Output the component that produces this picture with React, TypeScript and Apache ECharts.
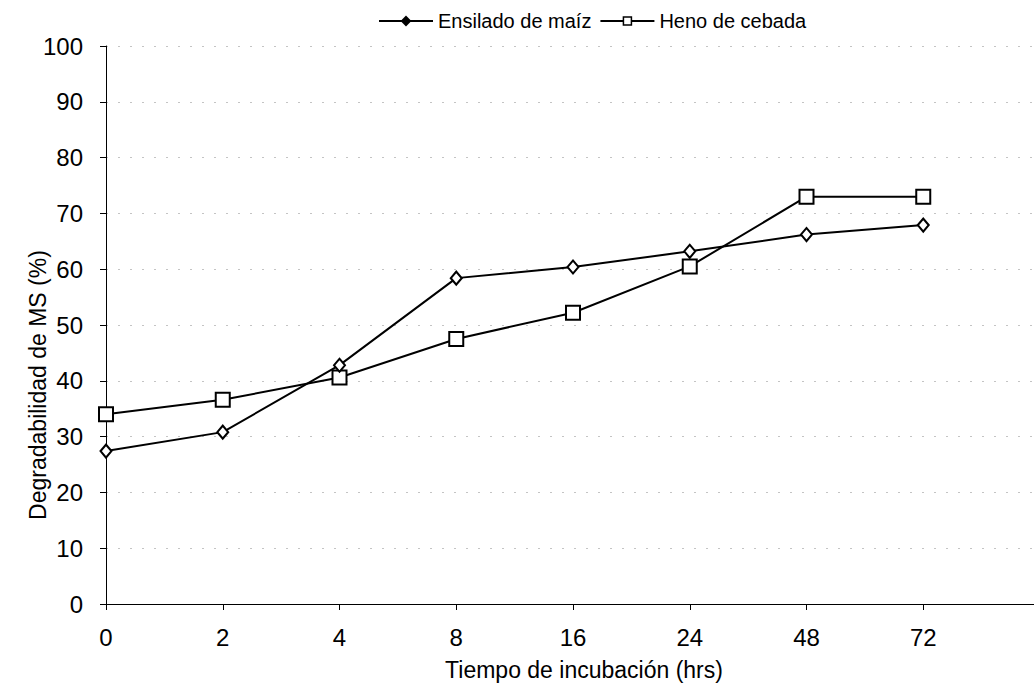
import React, { useEffect, useRef } from "react";
import * as echarts from "echarts";

const categories = ["0", "2", "4", "8", "16", "24", "48", "72", ""];
const ensilado = [27.4, 30.8, 42.8, 58.4, 60.4, 63.2, 66.2, 67.9];
const heno = [34.0, 36.6, 40.6, 47.5, 52.2, 60.5, 73.0, 73.0];
const seriesNames = ["Ensilado de maíz", "Heno de cebada"];
const xName = "Tiempo de incubación (hrs)";
const yName = "Degradabilidad de MS (%)";

const FONT = "Liberation Sans, Arial, sans-serif";

export default function App() {
  const ref = useRef<HTMLDivElement>(null);
  useEffect(() => {
    if (!ref.current) return;
    const chart = echarts.init(ref.current, null, { renderer: "svg" });
    chart.setOption({
      animation: false,
      backgroundColor: "#ffffff",
      textStyle: { fontFamily: FONT, color: "#000" },
      legend: {
        top: 6,
        left: 373,
        itemGap: 8,
        itemWidth: 54,
        itemHeight: 10,
        textStyle: { fontSize: 20, color: "#000", fontFamily: FONT },
        data: [
          { name: seriesNames[0], itemStyle: { color: "#000", borderColor: "#000" } },
          { name: seriesNames[1], itemStyle: { color: "#fff", borderColor: "#000", borderWidth: 1.5 } },
        ],
      },
      grid: { left: 106, top: 46, bottom: 86, right: -6, outerBoundsMode: "none" },
      xAxis: {
        type: "category",
        data: categories,
        boundaryGap: false,
        name: xName,
        nameLocation: "middle",
        nameGap: 54,
        nameMoveOverlap: false,
        nameTextStyle: { fontSize: 23, color: "#000", fontFamily: FONT, padding: [0, 0, 0, 22] },
        axisLine: { lineStyle: { color: "#000", width: 1 } },
        axisTick: { length: 6, lineStyle: { color: "#000" } },
        axisLabel: { fontSize: 24, color: "#000", margin: 21, fontFamily: FONT },
        splitLine: { show: false },
      },
      yAxis: {
        type: "value",
        min: 0,
        max: 100,
        interval: 10,
        name: yName,
        nameLocation: "middle",
        nameGap: 57,
        nameMoveOverlap: false,
        nameTextStyle: { fontSize: 23, color: "#000", fontFamily: FONT, padding: [0, 120, 0, 0] },
        axisLine: { show: true, lineStyle: { color: "#000", width: 1 } },
        axisTick: { show: true, length: 6, lineStyle: { color: "#000" } },
        axisLabel: { fontSize: 24, color: "#000", margin: 23, fontFamily: FONT },
        splitLine: { show: true, lineStyle: { color: "#c4c4c4", width: 1, type: [2, 10] } },
      },
      series: [
        {
          name: seriesNames[0],
          type: "line",
          data: ensilado,
          symbol: "diamond",
          symbolSize: [11, 13],
          showAllSymbol: true,
          lineStyle: { color: "#000", width: 2 },
          itemStyle: { color: "#fff", borderColor: "#000", borderWidth: 2 },
          z: 3,
        },
        {
          name: seriesNames[1],
          type: "line",
          data: heno,
          symbol: "rect",
          symbolSize: 14,
          showAllSymbol: true,
          lineStyle: { color: "#000", width: 2 },
          itemStyle: { color: "#fff", borderColor: "#000", borderWidth: 2 },
          z: 2,
        },
      ],
    });
    return () => chart.dispose();
  }, []);
  return (
    <div
      ref={ref}
      style={{ position: "fixed", left: 0, top: 0, width: 1034, height: 690, background: "#fff" }}
    />
  );
}
